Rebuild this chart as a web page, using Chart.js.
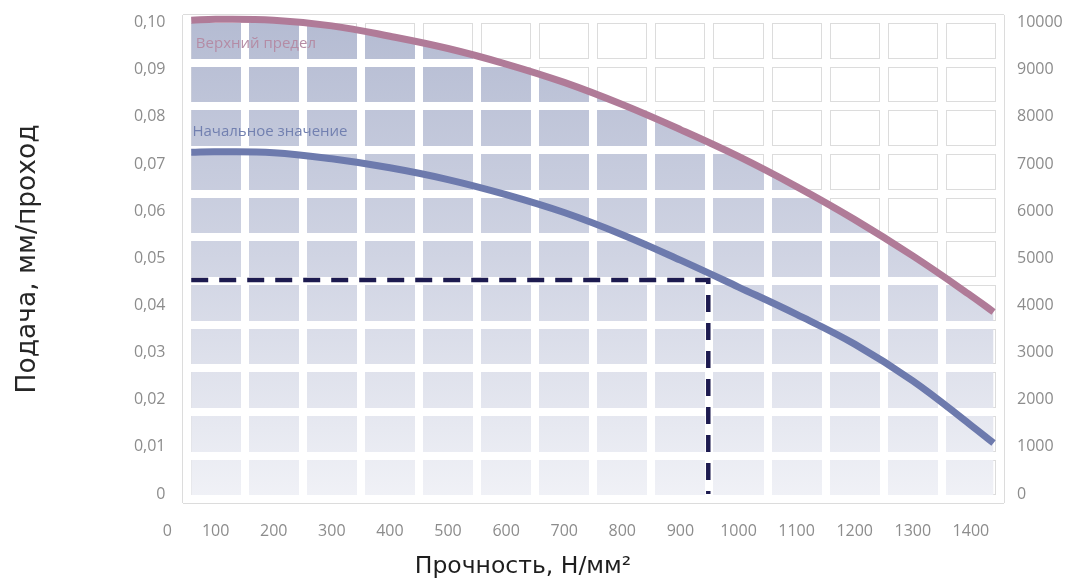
<!DOCTYPE html>
<html>
<head>
<meta charset="utf-8">
<script src="https://cdn.jsdelivr.net/npm/chart.js@4.4.1/dist/chart.umd.min.js"></script>
<style>
  html, body { margin: 0; padding: 0; background: #ffffff; }
  #wrap { position: relative; width: 1067px; height: 579px; }
  canvas { display: block; }
</style>
</head>
<body>
<div id="wrap"><canvas id="c" width="1067" height="579"></canvas></div>
<script>
// ---------- data ----------
const seriesNames = ['Верхний предел', 'Начальное значение'];

const upperX = [58, 100, 200, 300, 400, 500, 600, 700, 800, 900, 1000, 1100, 1200, 1300, 1400, 1439];
const upperY = [0.1005, 0.1007, 0.1005, 0.0993, 0.0971, 0.0945, 0.0912, 0.0873, 0.0826, 0.0773, 0.0716, 0.0652, 0.0582, 0.0505, 0.0421, 0.0386];

const startX = [58, 100, 200, 300, 400, 500, 600, 700, 800, 900, 1000, 1100, 1200, 1300, 1400, 1439];
const startY = [0.0725, 0.0726, 0.0724, 0.0711, 0.0692, 0.0667, 0.0635, 0.0597, 0.0550, 0.0496, 0.0439, 0.0381, 0.0318, 0.0240, 0.0146, 0.0108];

const guideX = [58, 948, 948];
const guideY = [0.0454, 0.0454, 0];

const xTickValues = [0, 100, 200, 300, 400, 500, 600, 700, 800, 900, 1000, 1100, 1200, 1300, 1400];
const xTickLabels = ['0', '100', '200', '300', '400', '500', '600', '700', '800', '900', '1000', '1100', '1200', '1300', '1400'];
const yTickValues = [0, 0.01, 0.02, 0.03, 0.04, 0.05, 0.06, 0.07, 0.08, 0.09, 0.10];
const yTickLabels = ['0', '0,01', '0,02', '0,03', '0,04', '0,05', '0,06', '0,07', '0,08', '0,09', '0,10'];
const y2TickValues = [0, 1000, 2000, 3000, 4000, 5000, 6000, 7000, 8000, 9000, 10000];
const y2TickLabels = ['0', '1000', '2000', '3000', '4000', '5000', '6000', '7000', '8000', '9000', '10000'];

const xTitle = 'Прочность, Н/мм²';
const yTitle = 'Подача, мм/проход';

// ---------- scale ranges / layout ----------
const X_MIN = 43, X_MAX = 1457;
const Y_MIN = -0.0019, Y_MAX = 0.1016;
const Y2_SCALE = 100000;
const GY_MIN = -0.082, GY_MAX = 11.092;   // tile-row grid axis
const ZERO_LABEL_AT = 17;                  // where the lone "0" label sits on the x axis

const TICK_FONT = { family: 'Open Sans', size: 16 };
const TICK_COLOR = '#8c8c8c';

function fillGradient(ctx) {
  const chart = ctx.chart;
  const a = chart.chartArea;
  if (!a) return 'rgb(200,205,222)';
  const g = chart.ctx.createLinearGradient(0, a.top, 0, a.bottom);
  g.addColorStop(0, 'rgb(180,187,210)');
  g.addColorStop(0.5, 'rgb(208,212,227)');
  g.addColorStop(1, 'rgb(241,242,247)');
  return g;
}

function gridXTicks(scale) {
  const t = [];
  for (let v = 50; v <= 1450; v += 100) t.push({ value: v });
  scale.ticks = t;
}
function gridYTicks(scale) {
  const t = [];
  for (let v = 0; v <= 11; v++) t.push({ value: v });
  scale.ticks = t;
}
function noOverhang(s) {
  s.paddingTop = 0; s.paddingBottom = 0; s.paddingLeft = 0; s.paddingRight = 0;
}

const tilePlugin = {
  id: 'tiles',
  beforeDraw(chart) {
    const a = chart.chartArea;
    chart.scales.gx.drawGrid(a);
    chart.scales.gy.drawGrid(a);
  },
  beforeDatasetsDraw(chart) {
    const a = chart.chartArea;
    chart.scales.gxw.drawGrid(a);
    chart.scales.gyw.drawGrid(a);
    // series name captions inside the plot
    const ctx = chart.ctx, xs = chart.scales.x, ys = chart.scales.y;
    const captions = [
      { text: seriesNames[0], x: 66, y: 0.0955, color: '#b48ca5' },
      { text: seriesNames[1], x: 60, y: 0.0768, color: '#7280b0' }
    ];
    ctx.save();
    ctx.font = '15px "Open Sans"';
    ctx.textBaseline = 'middle';
    ctx.textAlign = 'left';
    captions.forEach(c => {
      ctx.fillStyle = c.color;
      ctx.fillText(c.text, xs.getPixelForValue(c.x), ys.getPixelForValue(c.y));
    });
    ctx.restore();
  }
};

const toPts = (xs, ys) => xs.map((x, i) => ({ x, y: ys[i] }));

new Chart(document.getElementById('c'), {
  type: 'line',
  data: {
    datasets: [
      {
        label: seriesNames[0],
        data: toPts(upperX, upperY),
        borderColor: '#b07b98',
        borderWidth: 7,
        pointRadius: 0,
        fill: 'start',
        backgroundColor: fillGradient,
        tension: 0.4,
        xAxisID: 'x', yAxisID: 'y'
      },
      {
        label: seriesNames[1],
        data: toPts(startX, startY),
        borderColor: '#6d7aad',
        borderWidth: 7,
        pointRadius: 0,
        fill: false,
        tension: 0.4,
        xAxisID: 'x', yAxisID: 'y'
      },
      {
        label: 'guide',
        data: toPts(guideX, guideY),
        borderColor: '#1d1b50',
        borderWidth: 4.5,
        borderDash: [17, 11],
        pointRadius: 0,
        fill: false,
        tension: 0,
        xAxisID: 'x', yAxisID: 'y'
      }
    ]
  },
  options: {
    responsive: false,
    animation: false,
    devicePixelRatio: 1,
    layout: { padding: { left: -21, right: 0, top: 15, bottom: 0 } },
    plugins: {
      legend: { display: false },
      tooltip: { enabled: false },
      filler: { drawTime: 'beforeDatasetsDraw' },
      title: {
        display: true,
        position: 'bottom',
        text: xTitle,
        color: '#1e1e1e',
        font: { family: 'DejaVu Sans', size: 23.5, weight: 'normal' },
        padding: { top: 0, bottom: -2 }
      }
    },
    scales: {
      x: {
        type: 'linear', position: 'bottom', min: X_MIN, max: X_MAX,
        afterBuildTicks: s => { s.ticks = xTickValues.map(v => ({ value: v === 0 ? ZERO_LABEL_AT : v })); },
        ticks: {
          autoSkip: false, maxRotation: 0, padding: 19, color: TICK_COLOR, font: TICK_FONT,
          callback: (v, i) => xTickLabels[i]
        },
        grid: { display: false, drawTicks: false },
        border: { display: false },
        afterFit: s => { s.height = 49.8; noOverhang(s); }
      },
      y: {
        type: 'linear', position: 'left', min: Y_MIN, max: Y_MAX,
        afterBuildTicks: s => { s.ticks = yTickValues.map(v => ({ value: v })); },
        ticks: { padding: 17, color: TICK_COLOR, font: TICK_FONT, callback: (v, i) => yTickLabels[i] },
        grid: { display: false, drawTicks: false },
        border: { display: false },
        title: {
          display: true, text: yTitle, color: '#262626',
          font: { family: 'DejaVu Sans', size: 26.5, weight: 'normal' },
          padding: { top: 33, bottom: 0 }
        },
        afterFit: s => { s.width = 203.5; noOverhang(s); }
      },
      y2: {
        type: 'linear', position: 'right', min: Y_MIN * Y2_SCALE, max: Y_MAX * Y2_SCALE,
        afterBuildTicks: s => { s.ticks = y2TickValues.map(v => ({ value: v })); },
        ticks: { padding: 13, color: TICK_COLOR, font: TICK_FONT, callback: (v, i) => y2TickLabels[i] },
        grid: { display: false, drawTicks: false },
        border: { display: false },
        afterFit: s => { s.width = 63; noOverhang(s); }
      },
      gx: {
        type: 'linear', axis: 'x', position: 'bottom', display: false, min: X_MIN, max: X_MAX,
        afterBuildTicks: gridXTicks,
        ticks: { maxTicksLimit: 40 },
        grid: { display: true, color: '#dcdcdc', lineWidth: 10, drawTicks: false }
      },
      gxw: {
        type: 'linear', axis: 'x', position: 'bottom', display: false, min: X_MIN, max: X_MAX,
        afterBuildTicks: gridXTicks,
        ticks: { maxTicksLimit: 40 },
        grid: { display: true, color: '#ffffff', lineWidth: 8, drawTicks: false }
      },
      gy: {
        type: 'linear', axis: 'y', position: 'left', display: false, min: GY_MIN, max: GY_MAX,
        afterBuildTicks: gridYTicks,
        ticks: { maxTicksLimit: 40 },
        grid: { display: true, color: '#dcdcdc', lineWidth: 10, drawTicks: false }
      },
      gyw: {
        type: 'linear', axis: 'y', position: 'left', display: false, min: GY_MIN, max: GY_MAX,
        afterBuildTicks: gridYTicks,
        ticks: { maxTicksLimit: 40 },
        grid: { display: true, color: '#ffffff', lineWidth: 8, drawTicks: false }
      }
    }
  },
  plugins: [tilePlugin]
});
</script>
</body>
</html>
